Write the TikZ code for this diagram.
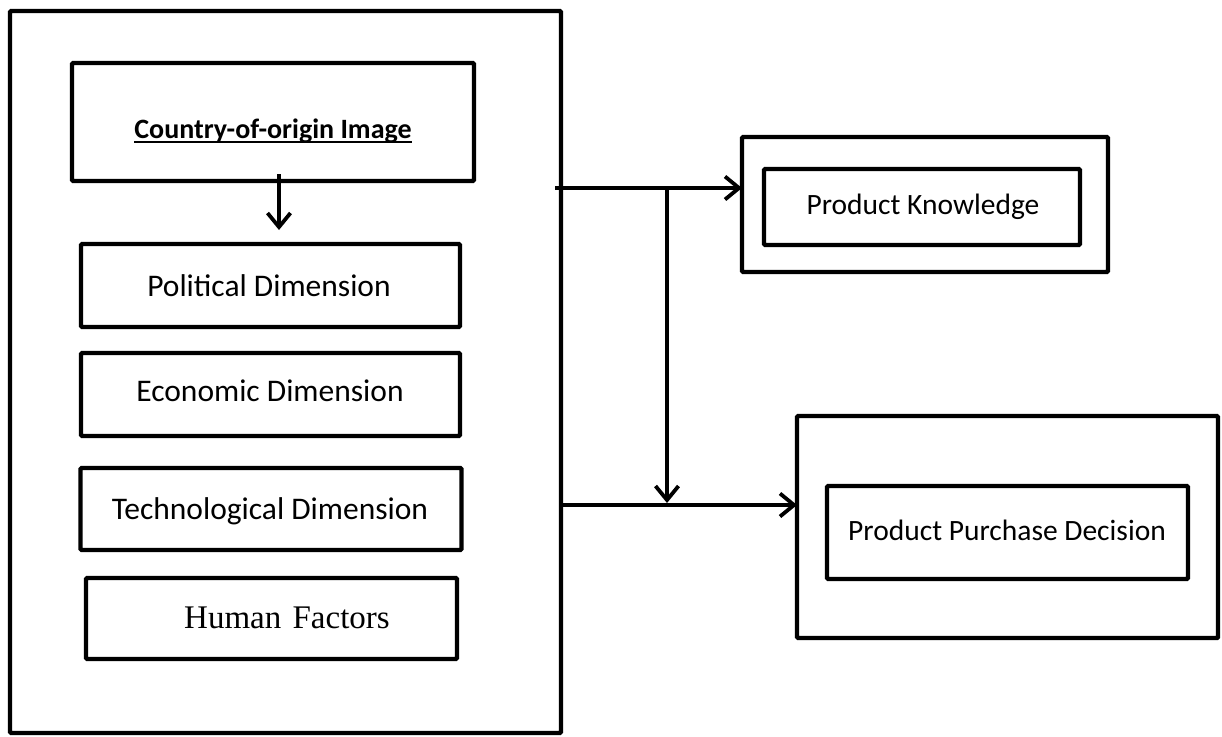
\documentclass[tikz,border=0pt]{standalone}
\usepackage{fontspec}
\setmainfont{Carlito}
\newfontfamily\timesf{Liberation Serif}
\usetikzlibrary{arrows.meta}
\begin{document}
\begin{tikzpicture}[x=1pt,y=-1pt,
  box/.style={draw,line width=4.2pt,inner sep=0pt,outer sep=0pt,rounded corners=1pt},
  lbl/.style={inner sep=0pt,anchor=base,font=\fontsize{31.5}{36}\selectfont},
  rlbl/.style={inner sep=0pt,anchor=base,font=\fontsize{29.5}{34}\selectfont},
  arr/.style={line width=4.2pt,-{Straight Barb[length=14pt,width=23pt,line width=3.8pt]}}]
\useasboundingbox (0,0) rectangle (1222,736);
% left group
\node[box,minimum width=551pt,minimum height=722pt] (outer) at (285.5,372) {};
\node[box,minimum width=402pt,minimum height=118pt] (coi) at (273,122) {};
\node[inner sep=0pt,anchor=base,font=\fontsize{28}{34}\selectfont\bfseries] (coiT) at (273,138) {Country-of-origin Image};
\draw[line width=1.6pt] ([yshift=-4pt]coiT.base west) -- ([yshift=-4pt]coiT.base east);
\node[box,minimum width=379pt,minimum height=83pt] (pol) at (270.5,285.5) {};
\node[lbl] (polT) at (269,296) {Political Dimension};
\node[box,minimum width=379pt,minimum height=83pt] (eco) at (270.5,394.5) {};
\node[lbl] (ecoT) at (270,401) {Economic Dimension};
\node[box,minimum width=381pt,minimum height=82pt] (tec) at (271,509) {};
\node[lbl] (tecT) at (270,519) {Technological Dimension};
\node[box,minimum width=371pt,minimum height=81pt] (hum) at (271.5,618.5) {};
\node[inner sep=0pt,anchor=base,font=\fontsize{33}{38}\selectfont\timesf] (humT) at (287,628) {Human\hspace{3pt} Factors};
\draw[arr] ([yshift=7pt]coi.south -| 279,0) -- ([yshift=14pt]pol.north -| 279,0);
% right group
\node[box,minimum width=366pt,minimum height=135pt] (pko) at (925,204.5) {};
\node[box,minimum width=316pt,minimum height=76pt] (pki) at (922,207) {};
\node[rlbl] (pkT) at (923,214) {Product Knowledge};
\node[box,minimum width=421pt,minimum height=222pt] (ppo) at (1007.5,527) {};
\node[box,minimum width=361pt,minimum height=93pt] (ppi) at (1007.5,532.5) {};
\node[rlbl] (ppT) at (1007,540) {Product Purchase Decision};
% connectors
\coordinate (a1) at (555,188);
\coordinate (a2) at (561,505);
\coordinate (j1) at (667,188);
\coordinate (j2) at (667,503);
\draw[arr] (a1) -- (pko.west |- a1);
\draw[arr] (a2) -- (ppo.west |- a2);
\draw[arr] (j1) -- (j2);
\end{tikzpicture}
\end{document}
